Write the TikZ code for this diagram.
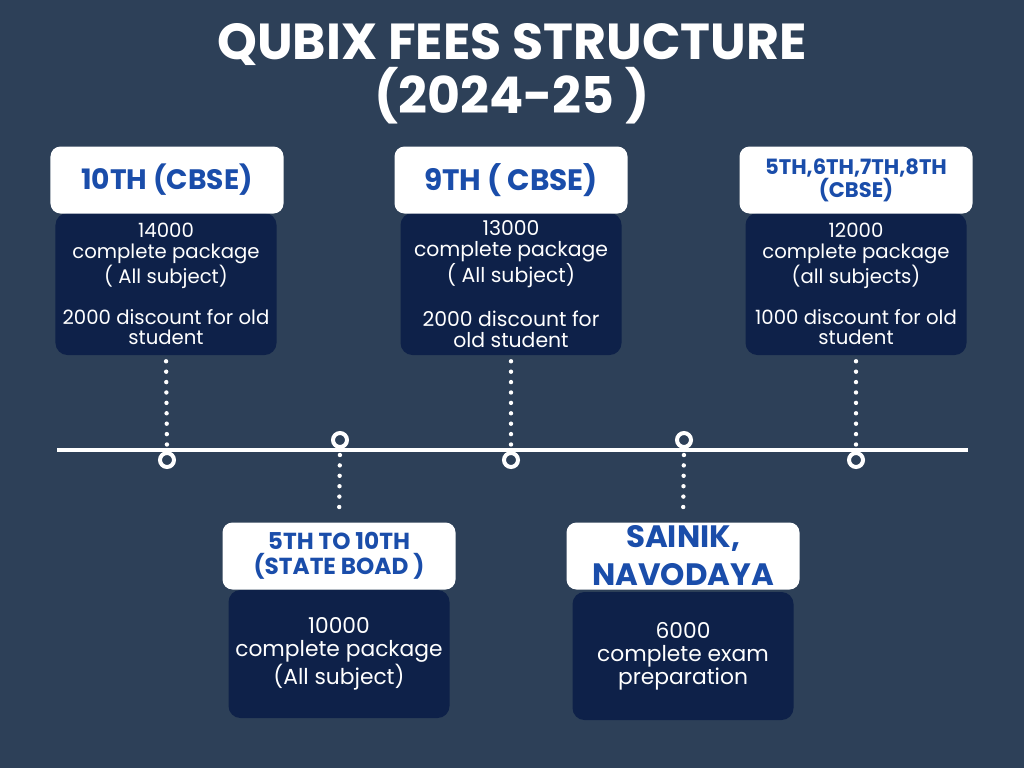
\documentclass[tikz,border=0pt]{standalone}
\usepackage{fontspec}
\setmainfont{Poppins}
\usepackage{xcolor}
\definecolor{bgslate}{HTML}{2D4058}
\definecolor{navybox}{HTML}{0E2149}
\definecolor{headblue}{HTML}{1A4DAA}
\begin{document}
\begin{tikzpicture}[
			x=0.25mm, y=-0.25mm,
			headbox/.style={fill=white, rounded corners=2.5mm, minimum width=58.25mm, minimum height=16.75mm, align=center, text=headblue, inner sep=0pt},
			bodybox/.style={fill=navybox, rounded corners=3mm, minimum width=55.25mm, align=center, text=white, inner sep=0pt},
			ring/.style={circle, draw=white, fill=bgslate, line width=1mm, minimum size=3.5mm, inner sep=0pt},
			dotline/.style={white, line width=1.1mm, line cap=round, dash pattern=on 0pt off 2.6mm}
		]
		\useasboundingbox (0,0) rectangle (1024,768);
		\fill[bgslate] (0,0) rectangle (1024,768);

		\node[text=white, align=center, font=\fontsize{36}{37}\selectfont\bfseries] (title) at (512,74) {QUBIX FEES STRUCTURE\\(2024-25 )};

		\node[bodybox, minimum height=35.5mm, font=\fontsize{14}{14.5}\selectfont] (b10) at (166,284) {14000\\complete package\\( All subject)\\[14.5pt]2000 discount for old\\student};
		\node[headbox, font=\fontsize{20}{22}\selectfont\bfseries] (h10) at (167,180) {10TH (CBSE)};

		\node[bodybox, minimum height=35.5mm, font=\fontsize{14.5}{15}\selectfont] (b9) at (511,284) {13000\\complete package\\( All subject)\\[16pt]2000 discount for\\old student};
		\node[headbox, font=\fontsize{21}{23}\selectfont\bfseries] (h9) at (511,180) {9TH ( CBSE)};

		\node[bodybox, minimum height=35.5mm, font=\fontsize{14}{14.5}\selectfont] (b5) at (856,284) {12000\\complete package\\(all subjects)\\[14.5pt]1000 discount for old\\student};
		\node[headbox, font=\fontsize{15}{16.5}\selectfont\bfseries] (h5) at (856,180) {5TH,6TH,7TH,8TH\\(CBSE)};

		\node[bodybox, minimum height=32mm, font=\fontsize{15.5}{16.5}\selectfont] (bst) at (339,654) {10000\\complete package\\(All subject)};
		\node[headbox, font=\fontsize{16.5}{18}\selectfont\bfseries] (hst) at (339,556) {5TH TO 10TH\\(STATE BOAD )};

		\node[bodybox, minimum height=32mm, font=\fontsize{15.5}{16.5}\selectfont] (bsn) at (683,656) {6000\\complete exam\\preparation};
		\node[headbox, font=\fontsize{22}{27}\selectfont\bfseries] (hsn) at (683,556) {SAINIK,\\NAVODAYA};

		\coordinate (tl-a) at (57,450);
		\coordinate (tl-b) at (968,450);
		\draw[white, line width=1mm] (tl-a) -- (tl-b);

		\node[ring] (r10) at (167,460) {};
		\node[ring] (r9) at (511,460) {};
		\node[ring] (r5) at (856,460) {};
		\node[ring] (rst) at (340,440) {};
		\node[ring] (rsn) at (684,440) {};

		\draw[dotline, shorten <=1.5mm, shorten >=1.5mm] (b10.south) -- (r10.north);
		\draw[dotline, shorten <=1.5mm, shorten >=1.5mm] (b9.south) -- (r9.north);
		\draw[dotline, shorten <=1.5mm, shorten >=1.5mm] (b5.south) -- (r5.north);
		\draw[dotline, shorten <=1.5mm, shorten >=1.5mm] (rst.south) -- (hst.north);
		\draw[dotline, shorten <=1.5mm, shorten >=1.5mm] (rsn.south) -- (hsn.north);
	\end{tikzpicture}
\end{document}
